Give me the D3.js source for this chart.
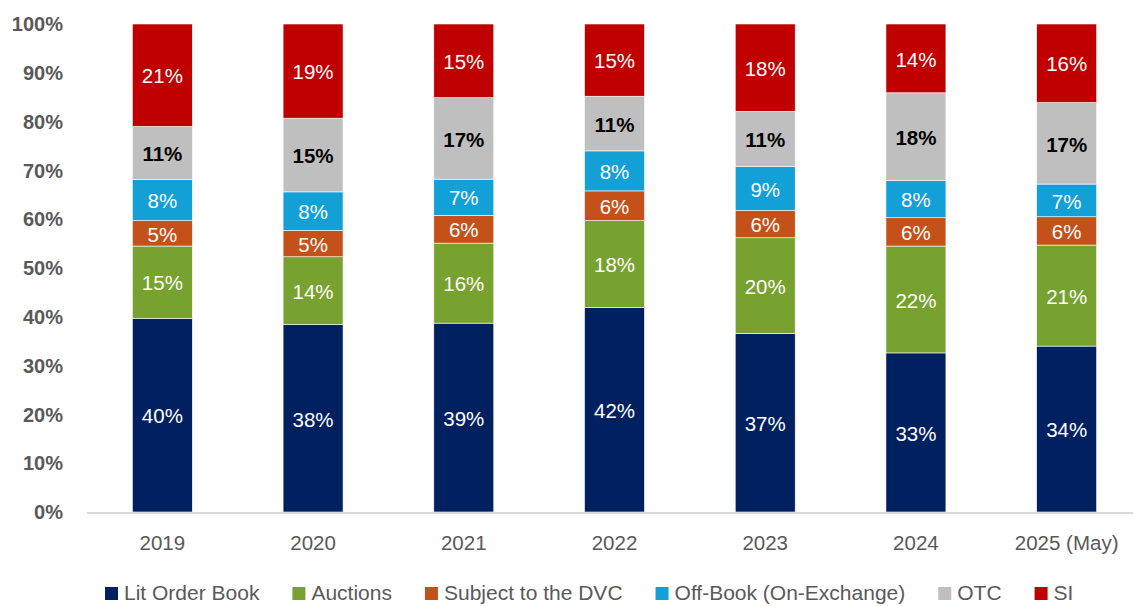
<!DOCTYPE html>
<html>
<head>
<meta charset="utf-8">
<script src="https://cdn.jsdelivr.net/npm/d3@7"></script>
<style>
  body { margin: 0; background: #fff; }
  svg { display: block; font-family: "Liberation Sans", Arial, sans-serif; }
</style>
</head>
<body>
<div id="chart"></div>
<script>
// categories and series (share of volume, %)
const years = ["2019", "2020", "2021", "2022", "2023", "2024", "2025 (May)"];
const seriesNames = ["Lit Order Book", "Auctions", "Subject to the DVC", "Off-Book (On-Exchange)", "OTC", "SI"];
const litOrderBook = [39.7, 38.4, 38.7, 41.9, 36.6, 32.6, 34.0];
const auctions     = [14.8, 13.9, 16.4, 17.8, 19.6, 21.9, 20.7];
const subjectDVC   = [5.2, 5.4, 5.7, 6.1, 5.6, 5.8, 5.8];
const offBook      = [8.4, 7.9, 7.4, 8.2, 9.0, 7.6, 6.7];
const otc          = [10.9, 15.1, 16.7, 11.2, 11.3, 18.0, 16.7];
const si           = [21.0, 19.3, 15.1, 14.8, 17.9, 14.1, 16.1];
const yTicks = [0, 10, 20, 30, 40, 50, 60, 70, 80, 90, 100];

const colors = ["#002060", "#77a22f", "#c4511a", "#12a0d7", "#bfbfbf", "#c00000"];

const width = 1133, height = 606;
const margin = {left: 87, right: -9, top: 24, bottom: 94};

const allSeries = [litOrderBook, auctions, subjectDVC, offBook, otc, si];
const rows = years.map((yr, i) => {
  const r = {year: yr};
  seriesNames.forEach((s, j) => r[s] = allSeries[j][i]);
  return r;
});
const stacked = d3.stack().keys(seriesNames)(rows);

const svg = d3.select("#chart")
  .append("svg")
  .attr("width", width)
  .attr("height", height);

const x = d3.scaleBand()
  .domain(years)
  .range([margin.left, width - margin.right])
  .paddingInner(0.602)
  .paddingOuter(0.301);

const y = d3.scaleLinear()
  .domain([0, 100])
  .range([height - margin.bottom, margin.top]);

// bars
const layers = svg.append("g")
  .selectAll("g")
  .data(stacked)
  .join("g")
  .attr("fill", (d, i) => colors[i]);

layers.selectAll("rect")
  .data(d => d)
  .join("rect")
  .attr("x", d => x(d.data.year))
  .attr("y", d => y(d[1]))
  .attr("width", x.bandwidth())
  .attr("height", d => y(d[0]) - y(d[1]))
  .attr("stroke", "#ffffff")
  .attr("stroke-width", 0.6);

// segment labels
stacked.forEach((layer, i) => {
  svg.append("g")
    .selectAll("text")
    .data(layer)
    .join("text")
    .attr("x", d => x(d.data.year) + x.bandwidth() / 2)
    .attr("y", d => (y(d[0]) + y(d[1])) / 2)
    .attr("dy", "0.4em")
    .attr("text-anchor", "middle")
    .style("font-size", "20.5px")
    .style("font-weight", seriesNames[i] === "OTC" ? "bold" : "normal")
    .style("fill", seriesNames[i] === "OTC" ? "#000000" : "#ffffff")
    .text(d => Math.round(d[1] - d[0]) + "%");
});

// x axis line
svg.append("line")
  .attr("x1", margin.left)
  .attr("x2", width)
  .attr("y1", y(0) + 1)
  .attr("y2", y(0) + 1)
  .attr("stroke", "#d9d9d9")
  .attr("stroke-width", 2);

// x labels
svg.append("g")
  .selectAll("text")
  .data(years)
  .join("text")
  .attr("x", d => x(d) + x.bandwidth() / 2)
  .attr("y", 550)
  .attr("text-anchor", "middle")
  .style("font-size", "20.5px")
  .style("fill", "#595959")
  .text(d => d);

// y labels
svg.append("g")
  .selectAll("text")
  .data(yTicks)
  .join("text")
  .attr("x", 63)
  .attr("y", d => y(d))
  .attr("dy", "0.36em")
  .attr("text-anchor", "end")
  .style("font-size", "20px")
  .style("font-weight", "bold")
  .style("fill", "#595959")
  .text(d => d + "%");

// legend (raised a few px so descenders stay inside the frame)
let lx = 105;
seriesNames.forEach((name, i) => {
  svg.append("rect")
    .attr("x", lx)
    .attr("y", 587)
    .attr("width", 13)
    .attr("height", 13)
    .attr("fill", colors[i]);
  const t = svg.append("text")
    .attr("x", lx + 19)
    .attr("y", 600)
    .style("font-size", "21px")
    .style("fill", "#595959")
    .text(name);
  lx += 19 + t.node().getComputedTextLength() + 33;
});
</script>
</body>
</html>
